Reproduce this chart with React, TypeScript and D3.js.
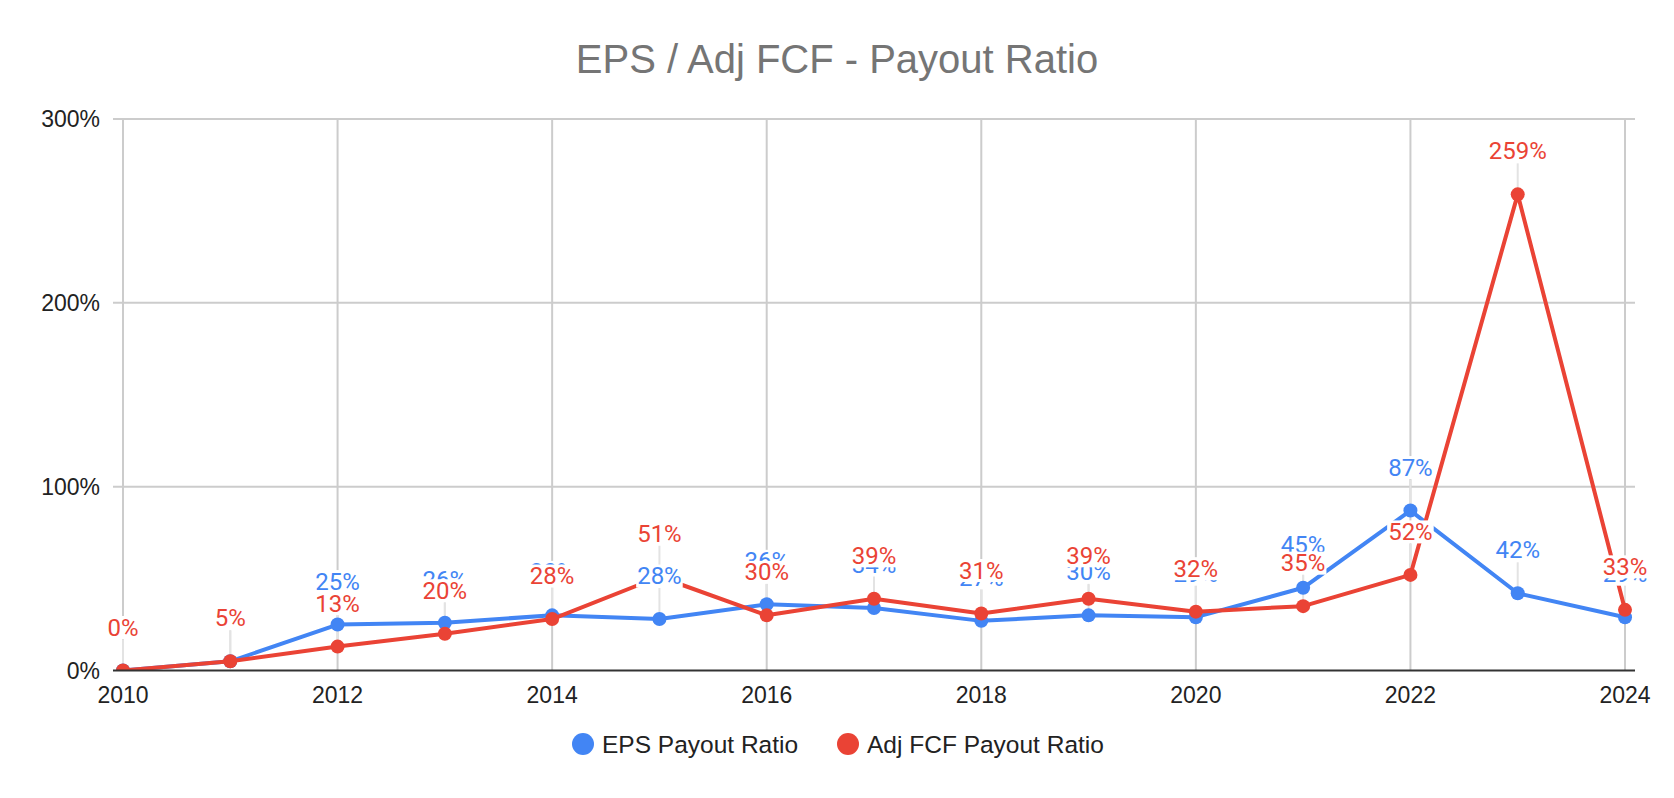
import React from "react";
import * as d3 from "d3";

const years = [2010, 2011, 2012, 2013, 2014, 2015, 2016, 2017, 2018, 2019, 2020, 2021, 2022, 2023, 2024];
const epsPayout = [0, 5, 25, 26, 30, 28, 36, 34, 27, 30, 29, 45, 87, 42, 29];
const adjFcfPayout = [0, 5, 13, 20, 28, 51, 30, 39, 31, 39, 32, 35, 52, 259, 33];
const yTicks = [0, 100, 200, 300];
const xTicks = [2010, 2012, 2014, 2016, 2018, 2020, 2022, 2024];
const seriesNames = ["EPS Payout Ratio", "Adj FCF Payout Ratio"];
const seriesColors = ["#4285F4", "#EA4335"];
const title = "EPS / Adj FCF - Payout Ratio";

const W = 1674;
const H = 798;
const LABEL_FONT = 24;
const SANS = "'Liberation Sans', Arial, sans-serif";

export default function App() {
  const x = d3.scaleLinear().domain([2010, 2024]).range([123, 1625]);
  const y = d3.scaleLinear().domain([0, 300]).range([670.5, 119]);
  const series = [epsPayout, adjFcfPayout];
  const line = d3
    .line<number>()
    .x((_, i) => x(years[i]))
    .y((v) => y(v));

  const labelWidth = (s: string) => {
    let w = 0;
    for (const c of s) w += c === "%" ? 0.733 : 0.562;
    return w * LABEL_FONT;
  };

  return (
    <svg
      width={W}
      height={H}
      style={{ position: "absolute", left: 0, top: 0, background: "#fff" }}
    >
      <defs>
        <clipPath id="plotClip">
          <rect x={0} y={100} width={W} height={670.5 - 100} />
        </clipPath>
      </defs>
      <rect x={0} y={0} width={W} height={H} fill="#fff" />
      <text
        x={W / 2}
        y={73}
        textAnchor="middle"
        fontFamily={SANS}
        fontSize={40}
        fill="#757575"
      >
        {title}
      </text>

      {/* horizontal gridlines */}
      {yTicks.map((t) => (
        <g key={"h" + t}>
          {t !== 0 && (
            <line x1={113} x2={1635} y1={y(t)} y2={y(t)} stroke="#cccccc" strokeWidth={2} />
          )}
          <text
            x={100}
            y={y(t) + 8}
            textAnchor="end"
            fontFamily={SANS}
            fontSize={23}
            fill="#222"
          >
            {t + "%"}
          </text>
        </g>
      ))}
      {/* vertical gridlines */}
      {xTicks.map((t) => (
        <g key={"v" + t}>
          <line x1={x(t)} x2={x(t)} y1={y(300)} y2={y(0)} stroke="#cccccc" strokeWidth={2} />
          <text
            x={x(t)}
            y={703}
            textAnchor="middle"
            fontFamily={SANS}
            fontSize={23}
            fill="#222"
          >
            {t}
          </text>
        </g>
      ))}

      {/* leader lines */}
      {series.map((vals, si) =>
        vals.map((v, i) => (
          <line
            key={"ll" + si + "-" + i}
            x1={x(years[i])}
            x2={x(years[i])}
            y1={y(v) - 31}
            y2={y(v)}
            stroke="#e3e3e3"
            strokeWidth={2}
          />
        ))
      )}

      <g clipPath="url(#plotClip)">
        {series.map((vals, si) => (
          <g key={"s" + si}>
            <path d={line(vals) || ""} fill="none" stroke={seriesColors[si]} strokeWidth={4} strokeLinejoin="round" />
            {vals.map((v, i) => (
              <circle key={i} cx={x(years[i])} cy={y(v)} r={7} fill={seriesColors[si]} />
            ))}
          </g>
        ))}
      </g>

      {/* baseline */}
      <line x1={113} x2={1635} y1={y(0)} y2={y(0)} stroke="#333333" strokeWidth={2} />

      {/* data labels */}
      {series.map((vals, si) =>
        vals.map((v, i) => {
          const s = v + "%";
          const w = labelWidth(s);
          const cx = x(years[i]);
          const by = y(v) - 35;
          return (
            <g key={"lb" + si + "-" + i}>
              <rect x={cx - w / 2 - 1} y={by - 19.5} width={w + 2} height={23} fill="#fff" />
              <text
                x={cx}
                y={by}
                textAnchor="middle"
                fontFamily="Roboto, sans-serif"
                fontSize={LABEL_FONT}
                fill={seriesColors[si]}
              >
                {s}
              </text>
            </g>
          );
        })
      )}

      {/* legend */}
      {seriesNames.map((name, si) => {
        const cx = si === 0 ? 583 : 848;
        return (
          <g key={"lg" + si}>
            <circle cx={cx} cy={744} r={11} fill={seriesColors[si]} />
            <text x={cx + 19} y={752.5} fontFamily={SANS} fontSize={24.5} fill="#222">
              {name}
            </text>
          </g>
        );
      })}
    </svg>
  );
}
